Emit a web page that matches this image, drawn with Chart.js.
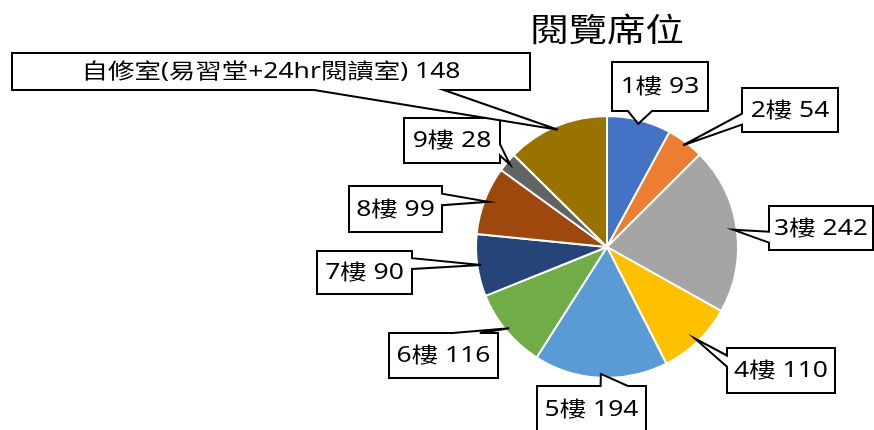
<!DOCTYPE html>
<html>
<head>
<meta charset="utf-8">
<script src="https://cdn.jsdelivr.net/npm/chart.js@4/dist/chart.umd.min.js"></script>
<style>
  html, body { margin: 0; padding: 0; background: #fff; }
  #wrap { width: 874px; height: 430px; }
</style>
</head>
<body>
<div id="wrap"><canvas id="seatChart" width="874" height="430"></canvas></div>
<script>
const chartTitle = '閱覽席位';
const floors = ['1樓', '2樓', '3樓', '4樓', '5樓', '6樓', '7樓', '8樓', '9樓', '自修室(易習堂+24hr閱讀室)'];
const seats = [93, 54, 242, 110, 194, 116, 90, 99, 28, 148];
const sliceColors = ['#4472C4', '#ED7D31', '#A5A5A5', '#FFC000', '#5B9BD5',
                     '#70AD47', '#264478', '#9E480E', '#636363', '#997300'];

// callout boxes [left, top, width, height] in canvas px
const labelBoxes = [
  [612, 62, 96, 49],
  [742, 88, 96, 44],
  [769, 206, 104, 44],
  [727, 348, 108, 45],
  [537, 386, 109, 46],
  [389, 333, 109, 45],
  [317, 251, 95, 43],
  [349, 186, 93, 46],
  [404, 118, 96, 45],
  [12, 53, 518, 37]
];

const labelFont = '21px "Noto Sans", "Noto Sans CJK TC", sans-serif';
const titleFont = '32px "Noto Sans CJK TC", sans-serif';
// the source picture was stretched sideways, so text is too
const textStretch = 1.26;

// Excel style wedge callout around a box, pointing at (tx, ty)
function calloutPath(ctx, bx, by, bw, bh, tx, ty) {
  const cx = bx + bw / 2, cy = by + bh / 2;
  const dx = tx - cx, dy = ty - cy;
  ctx.beginPath();
  if (tx >= bx && tx <= bx + bw && ty >= by && ty <= by + bh) {
    ctx.rect(bx, by, bw, bh);
    return;
  }
  const vertical = Math.abs(dy) * bw > Math.abs(dx) * bh;
  const f1 = (vertical ? dx : dy) > 0 ? 7 / 12 : 2 / 12;
  const f2 = f1 + 3 / 12;
  ctx.moveTo(bx, by);
  if (vertical && dy < 0) {
    ctx.lineTo(bx + bw * f1, by); ctx.lineTo(tx, ty); ctx.lineTo(bx + bw * f2, by);
  }
  ctx.lineTo(bx + bw, by);
  if (!vertical && dx > 0) {
    ctx.lineTo(bx + bw, by + bh * f1); ctx.lineTo(tx, ty); ctx.lineTo(bx + bw, by + bh * f2);
  }
  ctx.lineTo(bx + bw, by + bh);
  if (vertical && dy > 0) {
    ctx.lineTo(bx + bw * f2, by + bh); ctx.lineTo(tx, ty); ctx.lineTo(bx + bw * f1, by + bh);
  }
  ctx.lineTo(bx, by + bh);
  if (!vertical && dx < 0) {
    ctx.lineTo(bx, by + bh * f2); ctx.lineTo(tx, ty); ctx.lineTo(bx, by + bh * f1);
  }
  ctx.closePath();
}

function stretchedText(ctx, text, x, y, stretch) {
  ctx.save();
  ctx.translate(x, y);
  ctx.scale(stretch, 1);
  ctx.fillText(text, 0, 0);
  ctx.restore();
}

const calloutLabels = {
  id: 'calloutLabels',
  afterDatasetsDraw(chart) {
    const ctx = chart.ctx;
    const meta = chart.getDatasetMeta(0);
    ctx.save();
    meta.data.forEach((arc, i) => {
      const { x, y, startAngle, endAngle, outerRadius } =
        arc.getProps(['x', 'y', 'startAngle', 'endAngle', 'outerRadius'], true);
      const mid = (startAngle + endAngle) / 2;
      const tx = x + Math.cos(mid) * outerRadius * 0.97;
      const ty = y + Math.sin(mid) * outerRadius * 0.97;
      const [bx, by, bw, bh] = labelBoxes[i];
      calloutPath(ctx, bx, by, bw, bh, tx, ty);
      ctx.fillStyle = '#ffffff';
      ctx.fill();
      ctx.lineWidth = 2;
      ctx.strokeStyle = '#000000';
      ctx.lineJoin = 'miter';
      ctx.stroke();
      ctx.fillStyle = '#000000';
      ctx.font = labelFont;
      ctx.textAlign = 'center';
      ctx.textBaseline = 'middle';
      stretchedText(ctx, floors[i] + ' ' + seats[i], bx + bw / 2, by + bh / 2 + 1, textStretch);
    });
    // title
    const area = chart.chartArea;
    ctx.fillStyle = '#000000';
    ctx.font = titleFont;
    ctx.textAlign = 'center';
    ctx.textBaseline = 'middle';
    stretchedText(ctx, chartTitle, (area.left + area.right) / 2, 29, 1.2);
    ctx.restore();
  }
};

new Chart(document.getElementById('seatChart'), {
  type: 'pie',
  data: {
    labels: floors,
    datasets: [{
      data: seats,
      backgroundColor: sliceColors,
      borderColor: '#ffffff',
      borderWidth: 2,
      hoverOffset: 0
    }]
  },
  options: {
    responsive: false,
    animation: false,
    events: [],
    layout: { padding: { left: 475, right: 135, top: 115, bottom: 51 } },
    plugins: {
      legend: { display: false },
      tooltip: { enabled: false },
      title: { display: false }
    }
  },
  plugins: [calloutLabels]
});
</script>
</body>
</html>
